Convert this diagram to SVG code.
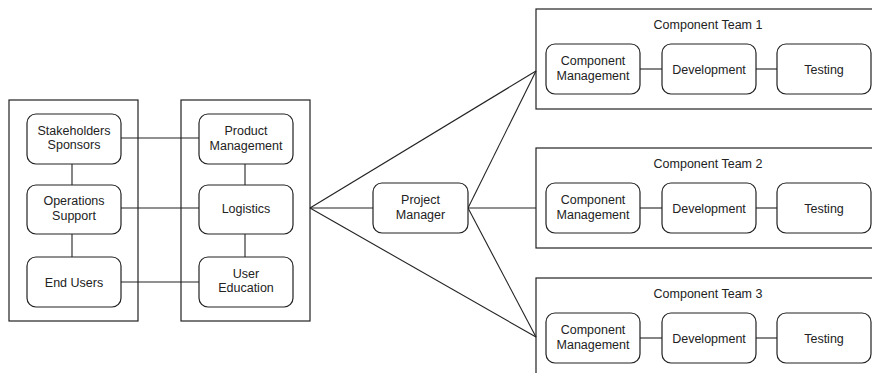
<svg xmlns="http://www.w3.org/2000/svg" width="872" height="373" viewBox="0 0 872 373">
<style>
.box{fill:#fff;stroke:#222;stroke-width:1.2}
.node{fill:#fff;stroke:#222;stroke-width:1.2}
.t{font-family:"Liberation Sans",Arial,sans-serif;font-size:12.5px;fill:#222;text-anchor:middle}
.c{stroke:#222;stroke-width:1.1;fill:none}
</style>
<rect width="872" height="373" fill="#fff"/>
<g id="group-stakeholders"><rect class="box" x="9" y="100" width="129" height="221"/></g>
<g id="group-product"><rect class="box" x="181" y="100" width="129" height="221"/></g>
<g id="team1"><rect class="box" x="536" y="9" width="345" height="100"/><text class="t" x="708" y="29">Component Team 1</text></g>
<g id="team2"><rect class="box" x="536" y="148" width="345" height="100"/><text class="t" x="708" y="168">Component Team 2</text></g>
<g id="team3"><rect class="box" x="536" y="278" width="345" height="100"/><text class="t" x="708" y="298">Component Team 3</text></g>
<g id="connectors">
<line class="c" x1="121" y1="138" x2="199" y2="138"/>
<line class="c" x1="121" y1="208" x2="199" y2="208"/>
<line class="c" x1="121" y1="282" x2="199" y2="282"/>
<line class="c" x1="72" y1="164" x2="72" y2="185"/>
<line class="c" x1="72" y1="234" x2="72" y2="257"/>
<line class="c" x1="245" y1="164" x2="245" y2="185"/>
<line class="c" x1="245" y1="234" x2="245" y2="257"/>
<line class="c" x1="310" y1="208" x2="373" y2="208"/>
<line class="c" x1="310" y1="208" x2="536" y2="71"/>
<line class="c" x1="310" y1="208" x2="536" y2="337"/>
<line class="c" x1="468" y1="208" x2="536" y2="71"/>
<line class="c" x1="468" y1="208" x2="536" y2="208"/>
<line class="c" x1="468" y1="208" x2="536" y2="337"/>
<line class="c" x1="640" y1="69" x2="662" y2="69"/>
<line class="c" x1="756" y1="69" x2="777" y2="69"/>
<line class="c" x1="640" y1="208" x2="662" y2="208"/>
<line class="c" x1="756" y1="208" x2="777" y2="208"/>
<line class="c" x1="640" y1="338" x2="662" y2="338"/>
<line class="c" x1="756" y1="338" x2="777" y2="338"/>
</g>
<g id="stakeholders-sponsors"><rect class="node" x="27" y="114" width="94" height="50" rx="9"/><text class="t" x="74" y="134.5">Stakeholders</text><text class="t" x="74" y="149">Sponsors</text></g>
<g id="operations-support"><rect class="node" x="27" y="185" width="94" height="49" rx="9"/><text class="t" x="74" y="205">Operations</text><text class="t" x="74" y="219.5">Support</text></g>
<g id="end-users"><rect class="node" x="27" y="257" width="94" height="50" rx="9"/><text class="t" x="74" y="286.5">End Users</text></g>
<g id="product-management"><rect class="node" x="199" y="114" width="94" height="50" rx="9"/><text class="t" x="246" y="135">Product</text><text class="t" x="246" y="149.5">Management</text></g>
<g id="logistics"><rect class="node" x="199" y="185" width="94" height="49" rx="9"/><text class="t" x="246" y="213">Logistics</text></g>
<g id="user-education"><rect class="node" x="199" y="257" width="94" height="50" rx="9"/><text class="t" x="246" y="277.5">User</text><text class="t" x="246" y="292">Education</text></g>
<g id="project-manager"><rect class="node" x="373" y="183" width="95" height="50" rx="9"/><text class="t" x="420.5" y="204">Project</text><text class="t" x="420.5" y="218.5">Manager</text></g>
<g id="t1-cm"><rect class="node" x="546" y="44" width="94" height="50" rx="9"/><text class="t" x="593" y="65">Component</text><text class="t" x="593" y="79.5">Management</text></g>
<g id="t1-dev"><rect class="node" x="662" y="44" width="94" height="50" rx="9"/><text class="t" x="709" y="73.5">Development</text></g>
<g id="t1-test"><rect class="node" x="777" y="44" width="94" height="50" rx="9"/><text class="t" x="824" y="73.5">Testing</text></g>
<g id="t2-cm"><rect class="node" x="546" y="183" width="94" height="50" rx="9"/><text class="t" x="593" y="204">Component</text><text class="t" x="593" y="218.5">Management</text></g>
<g id="t2-dev"><rect class="node" x="662" y="183" width="94" height="50" rx="9"/><text class="t" x="709" y="212.5">Development</text></g>
<g id="t2-test"><rect class="node" x="777" y="183" width="94" height="50" rx="9"/><text class="t" x="824" y="212.5">Testing</text></g>
<g id="t3-cm"><rect class="node" x="546" y="313" width="94" height="50" rx="9"/><text class="t" x="593" y="334">Component</text><text class="t" x="593" y="348.5">Management</text></g>
<g id="t3-dev"><rect class="node" x="662" y="313" width="94" height="50" rx="9"/><text class="t" x="709" y="342.5">Development</text></g>
<g id="t3-test"><rect class="node" x="777" y="313" width="94" height="50" rx="9"/><text class="t" x="824" y="342.5">Testing</text></g>
</svg>
